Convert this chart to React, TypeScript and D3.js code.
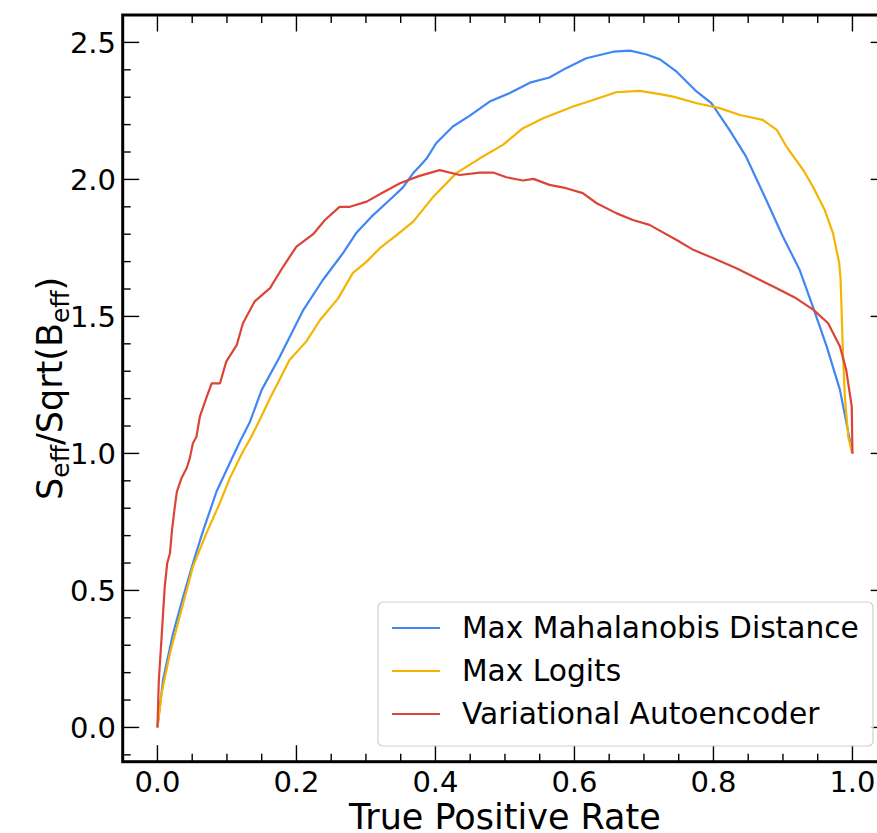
import React from 'react';
import * as d3 from 'd3';

const W = 877;
const H = 833;
const xDomain: [number, number] = [-0.05, 1.05];
const yDomain: [number, number] = [-0.125, 2.6];
const xTicks = [0, 0.2, 0.4, 0.6, 0.8, 1.0];
const yTicks = [0, 0.5, 1.0, 1.5, 2.0, 2.5];

const mahaX = [0, 0.008, 0.0225, 0.037, 0.051, 0.066, 0.085, 0.104, 0.118, 0.133, 0.150, 0.176, 0.210, 0.238, 0.267, 0.286, 0.308, 0.334, 0.353, 0.368, 0.377, 0.387, 0.401, 0.425, 0.449, 0.478, 0.507, 0.536, 0.564, 0.588, 0.617, 0.656, 0.680, 0.704, 0.723, 0.747, 0.776, 0.797, 0.823, 0.847, 0.876, 0.900, 0.924, 0.943, 0.963, 0.982, 1.0];
const mahaY = [0, 0.173, 0.344, 0.477, 0.599, 0.72, 0.861, 0.964, 1.040, 1.115, 1.232, 1.353, 1.524, 1.633, 1.731, 1.804, 1.864, 1.925, 1.97, 2.023, 2.047, 2.075, 2.132, 2.193, 2.232, 2.284, 2.315, 2.353, 2.372, 2.406, 2.442, 2.466, 2.47, 2.456, 2.438, 2.393, 2.32, 2.278, 2.181, 2.083, 1.925, 1.791, 1.67, 1.536, 1.39, 1.232, 1.0];

const logitX = [0, 0.006, 0.018, 0.032, 0.051, 0.0705, 0.0896, 0.104, 0.123, 0.135, 0.147, 0.162, 0.190, 0.214, 0.234, 0.26, 0.281, 0.301, 0.32, 0.344, 0.368, 0.397, 0.43, 0.464, 0.497, 0.526, 0.555, 0.598, 0.627, 0.66, 0.694, 0.723, 0.742, 0.776, 0.809, 0.838, 0.871, 0.891, 0.905, 0.929, 0.943, 0.96, 0.972, 0.981, 0.983, 0.986, 0.989, 0.994, 0.999, 1.0];
const logitY = [0, 0.125, 0.271, 0.404, 0.587, 0.709, 0.818, 0.909, 1.007, 1.06, 1.122, 1.201, 1.341, 1.408, 1.487, 1.566, 1.658, 1.70, 1.749, 1.797, 1.846, 1.937, 2.023, 2.077, 2.126, 2.187, 2.223, 2.266, 2.29, 2.318, 2.323, 2.311, 2.302, 2.278, 2.26, 2.235, 2.217, 2.181, 2.12, 2.035, 1.974, 1.889, 1.804, 1.694, 1.633, 1.39, 1.207, 1.061, 1.007, 1.0];

const vaeX = [0, 0.001, 0.002, 0.006, 0.0105, 0.014, 0.018, 0.021, 0.025, 0.028, 0.0345, 0.042, 0.0465, 0.051, 0.056, 0.061, 0.07, 0.078, 0.09, 0.099, 0.114, 0.123, 0.14, 0.162, 0.181, 0.2, 0.224, 0.241, 0.262, 0.277, 0.301, 0.325, 0.349, 0.377, 0.406, 0.435, 0.464, 0.483, 0.502, 0.526, 0.541, 0.564, 0.588, 0.612, 0.632, 0.66, 0.684, 0.708, 0.747, 0.771, 0.80, 0.833, 0.862, 0.891, 0.919, 0.944, 0.965, 0.982, 0.991, 0.999, 1.0];
const vaeY = [0, 0.088, 0.173, 0.331, 0.514, 0.599, 0.636, 0.721, 0.806, 0.861, 0.909, 0.946, 0.982, 1.037, 1.06, 1.134, 1.20, 1.256, 1.256, 1.335, 1.395, 1.475, 1.555, 1.603, 1.682, 1.755, 1.80, 1.852, 1.90, 1.90, 1.919, 1.953, 1.986, 2.013, 2.034, 2.016, 2.025, 2.025, 2.008, 1.996, 2.002, 1.98, 1.968, 1.95, 1.913, 1.877, 1.852, 1.834, 1.779, 1.743, 1.712, 1.676, 1.639, 1.603, 1.566, 1.524, 1.475, 1.39, 1.305, 1.171, 1.0];

const seriesNames = ['Max Mahalanobis Distance', 'Max Logits', 'Variational Autoencoder'];
const seriesColors = ['#4285F4', '#F4B400', '#DB4437'];

const L = 122.7, R = 887.2, T = 15, B = 761.7;
const FONT = 'DejaVu Sans, sans-serif';

export default function App() {
  const x = d3.scaleLinear().domain(xDomain).range([L, R]);
  const y = d3.scaleLinear().domain(yDomain).range([B, T]);
  const line = d3.line<[number, number]>().x(d => x(d[0])).y(d => y(d[1]));
  const series = [
    mahaX.map((v, i) => [v, mahaY[i]] as [number, number]),
    logitX.map((v, i) => [v, logitY[i]] as [number, number]),
    vaeX.map((v, i) => [v, vaeY[i]] as [number, number]),
  ];
  const xMinor = d3.range(0, 21).map(i => i * 0.05).filter(v => Math.abs((v * 5) - Math.round(v * 5)) > 1e-6);
  const yMinor = d3.range(-1, 27).map(i => i * 0.1).filter(v => Math.abs((v * 2) - Math.round(v * 2)) > 1e-6 && v <= 2.6 && v >= -0.125);
  const MAJ = 16.5, MIN = 8;
  const tickStyle = { stroke: '#000', strokeWidth: 1.4 };

  const legX = 378, legY = 602, legW = 495, legH = 144;
  const rowY = [628, 671, 714];

  return (
    <svg width={W} height={H} style={{ position: 'absolute', left: 0, top: 0, background: '#fff' }}>
      <defs>
        <clipPath id="plot"><rect x={L} y={T} width={R - L} height={B - T} /></clipPath>
      </defs>
      <rect x={0} y={0} width={W} height={H} fill="#fff" />
      <g clipPath="url(#plot)">
        {series.map((s, i) => (
          <path key={i} d={line(s) || ''} fill="none" stroke={seriesColors[i]} strokeWidth={2.2} strokeLinejoin="round" />
        ))}
      </g>
      {xTicks.map(v => (
        <g key={'xt' + v}>
          <line x1={x(v)} x2={x(v)} y1={B} y2={B - MAJ} {...tickStyle} />
          <line x1={x(v)} x2={x(v)} y1={T} y2={T + MAJ} {...tickStyle} />
          <text x={x(v)} y={792} textAnchor="middle" fontFamily={FONT} fontSize={29}>{v.toFixed(1)}</text>
        </g>
      ))}
      {xMinor.map(v => (
        <g key={'xm' + v}>
          <line x1={x(v)} x2={x(v)} y1={B} y2={B - MIN} {...tickStyle} />
          <line x1={x(v)} x2={x(v)} y1={T} y2={T + MIN} {...tickStyle} />
        </g>
      ))}
      {yTicks.map(v => (
        <g key={'yt' + v}>
          <line x1={L} x2={L + MAJ} y1={y(v)} y2={y(v)} {...tickStyle} />
          <line x1={R} x2={R - MAJ} y1={y(v)} y2={y(v)} {...tickStyle} />
          <text x={116} y={y(v) + 10.5} textAnchor="end" fontFamily={FONT} fontSize={29}>{v.toFixed(1)}</text>
        </g>
      ))}
      {yMinor.map(v => (
        <g key={'ym' + v}>
          <line x1={L} x2={L + MIN} y1={y(v)} y2={y(v)} {...tickStyle} />
          <line x1={R} x2={R - MIN} y1={y(v)} y2={y(v)} {...tickStyle} />
        </g>
      ))}
      <rect x={L} y={T} width={R - L} height={B - T} fill="none" stroke="#000" strokeWidth={3} />
      <rect x={legX} y={legY} width={legW} height={legH} rx={5} fill="#fff" fillOpacity={0.8} stroke="#d0d0d0" strokeWidth={1.2} />
      {seriesNames.map((n, i) => (
        <g key={n}>
          <line x1={392} x2={440} y1={rowY[i]} y2={rowY[i]} stroke={seriesColors[i]} strokeWidth={2.2} />
          <text x={462} y={rowY[i] + 10} fontFamily={FONT} fontSize={29.7}>{n}</text>
        </g>
      ))}
      <text x={(L + R) / 2} y={829} textAnchor="middle" fontFamily={FONT} fontSize={35}>True Positive Rate</text>
      <text transform={`translate(62, ${(T + B) / 2}) rotate(-90)`} textAnchor="middle" fontFamily={FONT} fontSize={35}>
        <tspan>S</tspan>
        <tspan fontSize={25} dy={7}>eff</tspan>
        <tspan dy={-7}>/Sqrt(B</tspan>
        <tspan fontSize={25} dy={7}>eff</tspan>
        <tspan dy={-7}>)</tspan>
      </text>
    </svg>
  );
}
